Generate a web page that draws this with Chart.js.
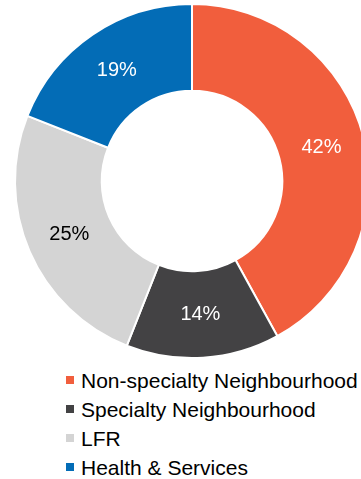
<!DOCTYPE html>
<html>
<head>
<meta charset="utf-8">
<script src="https://cdn.jsdelivr.net/npm/chart.js@4/dist/chart.umd.min.js"></script>
<style>
    body { margin: 0; background: #ffffff; width: 361px; height: 479px; overflow: hidden; position: relative; }
    #wrap { position: absolute; left: 0; top: 0; width: 384px; height: 362px; }
    #legenda { position: absolute; left: 66px; top: 366px; font-family: "Liberation Sans", Arial, sans-serif; font-size: 21px; color: #000; }
    .item { height: 29px; line-height: 29px; white-space: nowrap; }
    .box { display: inline-block; width: 8px; height: 8px; margin-right: 7px; vertical-align: middle; position: relative; top: -2px; }
</style>
</head>
<body>
<div id="wrap"><canvas id="Segmentos"></canvas></div>
<div id="legenda"></div>
<script>
const categorias = ["Non-specialty Neighbourhood", "Specialty Neighbourhood", "LFR", "Health & Services"];
const valores = [42, 14, 25, 19];
const cores = ["#F15E3D", "#434244", "#D4D4D4", "#036CB6"];
const corTexto = ["#ffffff", "#ffffff", "#000000", "#ffffff"];

const rotulos = {
    id: "rotulos",
    afterDatasetsDraw(chart) {
        const ctx = chart.ctx;
        const meta = chart.getDatasetMeta(0);
        ctx.save();
        ctx.font = '20px "Liberation Sans", Arial, sans-serif';
        ctx.textAlign = "center";
        ctx.textBaseline = "middle";
        meta.data.forEach((arc, i) => {
            const pos = arc.tooltipPosition();
            ctx.fillStyle = corTexto[i];
            ctx.fillText(valores[i] + "%", pos.x, pos.y);
        });
        ctx.restore();
    }
};

document.addEventListener("DOMContentLoaded", () => {
    new Chart(document.getElementById("Segmentos"), {
        type: "doughnut",
        data: {
            labels: categorias,
            datasets: [{
                data: valores,
                backgroundColor: cores,
                borderColor: "#ffffff",
                borderWidth: 2
            }]
        },
        options: {
            responsive: true,
            maintainAspectRatio: false,
            animation: false,
            cutout: "51%",
            layout: { padding: 3 },
            plugins: {
                legend: { display: false },
                tooltip: { enabled: false }
            }
        },
        plugins: [rotulos]
    });

    const legenda = document.getElementById("legenda");
    categorias.forEach((nome, i) => {
        const linha = document.createElement("div");
        linha.className = "item";
        const caixa = document.createElement("span");
        caixa.className = "box";
        caixa.style.background = cores[i];
        linha.appendChild(caixa);
        linha.appendChild(document.createTextNode(nome));
        legenda.appendChild(linha);
    });
});
</script>
</body>
</html>
